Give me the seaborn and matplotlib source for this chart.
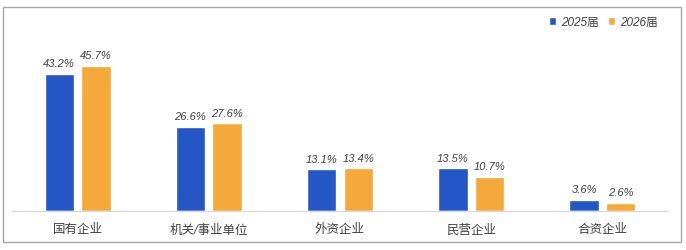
import matplotlib
matplotlib.use("Agg")
import matplotlib.pyplot as plt
import seaborn as sns
import pandas as pd
from matplotlib.patches import Rectangle

categories = ["国有企业", "机关/事业单位", "外资企业", "民营企业", "合资企业"]
series_names = ["2025届", "2026届"]
values_2025 = [43.2, 26.6, 13.1, 13.5, 3.6]
values_2026 = [45.7, 27.6, 13.4, 10.7, 2.6]

df = pd.DataFrame({
    "category": categories * 2,
    "series": [series_names[0]] * len(categories) + [series_names[1]] * len(categories),
    "value": values_2025 + values_2026,
})

sns.set_theme(style="white")
plt.rcParams["font.family"] = ["Liberation Sans", "Noto Sans CJK SC"]

colors = ["#2457C5", "#F5A93B"]

fig = plt.figure(figsize=(6.86, 2.51), dpi=100)
ax = fig.add_axes([12 / 686, 39 / 251, 656 / 686, 192 / 251])

sns.barplot(data=df, x="category", y="value", hue="series", palette=colors,
            saturation=1, width=0.56, gap=0.2, ax=ax, legend=True)

ax.set_ylim(0, 60.5)
ax.set_xlim(-0.5, len(categories) - 0.5)
ax.set_xlabel("")
ax.set_ylabel("")
ax.set_yticks([])
for s in ["top", "right", "left"]:
    ax.spines[s].set_visible(False)
ax.spines["bottom"].set_color("#D9D9D9")
ax.spines["bottom"].set_linewidth(1)
ax.tick_params(axis="x", length=0, pad=9)
for lbl in ax.get_xticklabels():
    lbl.set_fontstyle("italic")
    lbl.set_fontsize(9)
    lbl.set_color("#404040")

for cont in ax.containers:
    labels = [f"{v:.1f}%" for v in cont.datavalues]
    ax.bar_label(cont, labels=labels, padding=4, fontsize=8, fontstyle="italic", color="#404040")

leg = ax.legend(loc="upper right", bbox_to_anchor=(1.0, 1.07), ncol=2, frameon=False,
                handlelength=0.6, handleheight=0.6, handletextpad=0.4, columnspacing=0.8,
                fontsize=8.5)
for t in leg.get_texts():
    t.set_fontstyle("italic")
    t.set_color("#404040")

fig.patches.append(Rectangle((3 / 686, 8 / 251), 678 / 686, 235 / 251, transform=fig.transFigure,
                             fill=False, edgecolor="#A6A6A6", linewidth=1))

fig.savefig("out.png", dpi=100)
